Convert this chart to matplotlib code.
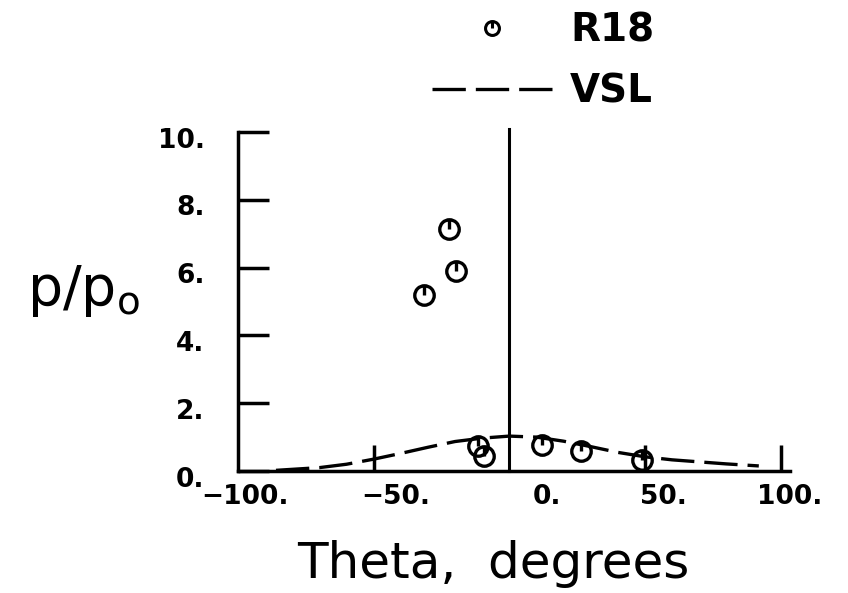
import matplotlib
matplotlib.use("Agg")
import matplotlib.pyplot as plt
import matplotlib.transforms as mtrans
from matplotlib.path import Path
from matplotlib.lines import Line2D

plt.rcParams['font.family'] = ['DejaVu Sans']

# R18 measurements
theta_r18 = [-31.4, -22.2, -19.7, -11.5, -9.5, 12.0, 26.5, 49.0]
p_r18 = [5.2, 7.15, 5.9, 0.75, 0.45, 0.78, 0.6, 0.33]

# VSL curve
theta_vsl = [-86, -70, -60, -50, -40, -30, -20, -10, 0, 10, 20, 30, 40, 50, 60, 70, 80, 92]
p_vsl = [0.02, 0.1, 0.2, 0.35, 0.52, 0.7, 0.87, 0.97, 1.03, 1.0, 0.88, 0.72, 0.55, 0.42, 0.33, 0.27, 0.21, 0.15]

yticks = [0, 2, 4, 6, 8, 10]
ylabels = ["0.", "2.", "4.", "6.", "8.", "10."]
xticks = [-50, 50, 100]
xlabel_pos = [-97.5, -42, 14, 57, 103.5]
xlabels = ["\u2212100.", "\u221250.", "0.", "50.", "100."]

# circle with a stub from the top down to the centre
circ = Path.unit_circle()
stub = Path([[0, 1], [0, 0]], [Path.MOVETO, Path.LINETO])
mk = Path.make_compound_path(circ, stub)

fig = plt.figure(figsize=(8.48, 5.93), dpi=100)
ax = fig.add_axes([0.2807, 0.2057, 0.6509, 0.5717])

ax.plot(theta_vsl, p_vsl, color='black', lw=2.4, dashes=(10, 3))
ax.plot(theta_r18, p_r18, linestyle='none', marker=mk, markersize=14,
        markerfacecolor='none', markeredgecolor='black', markeredgewidth=2.4)
ax.axvline(0, ymin=0, ymax=1.01, color='black', lw=2.2, clip_on=False)

ax.set_xlim(-100, 100)
ax.set_ylim(0, 10)
ax.spines['top'].set_visible(False)
ax.spines['right'].set_visible(False)
ax.spines['left'].set_linewidth(2.5)
ax.spines['bottom'].set_linewidth(2.5)

ax.set_yticks(yticks)
ax.set_yticklabels(ylabels, fontsize=19, fontweight='bold')
ax.tick_params(axis='y', direction='in', length=22, width=2.5, pad=24)
shift = mtrans.ScaledTranslation(0, -4 / 72, fig.dpi_scale_trans)
for lab in ax.get_yticklabels():
    lab.set_transform(lab.get_transform() + shift)

ax.set_xticks(xticks)
ax.set_xticklabels([])
ax.tick_params(axis='x', which='major', direction='in', length=19, width=2.5)
ax.set_xticks(xlabel_pos, minor=True)
ax.set_xticklabels(xlabels, minor=True, fontsize=19, fontweight='bold')
ax.tick_params(axis='x', which='minor', length=0, pad=9)

ax.set_xlabel("Theta,  degrees", fontsize=36)
ax.xaxis.label.set_va('baseline')
ax.xaxis.set_label_coords(0.462, -0.315)
ax.set_ylabel(r"$\mathregular{p/p_o}$", fontsize=40, rotation=0,
              ha='center', va='baseline')
ax.yaxis.set_label_coords(-0.28, 0.49)

handles = [
    Line2D([], [], linestyle='none', marker=mk, markersize=10,
           markerfacecolor='none', markeredgecolor='black', markeredgewidth=2.2),
    Line2D([], [], color='black', lw=2.4, dashes=(10, 3)),
]
ax.legend(handles, ["R18", "VSL"], loc='center', bbox_to_anchor=(0.553, 1.21),
          frameon=False, prop={'size': 28, 'weight': 'bold'},
          handlelength=3.1, handletextpad=0.45, labelspacing=0.6,
          numpoints=1, borderaxespad=0, borderpad=0)

fig.savefig("out.png", dpi=100)
